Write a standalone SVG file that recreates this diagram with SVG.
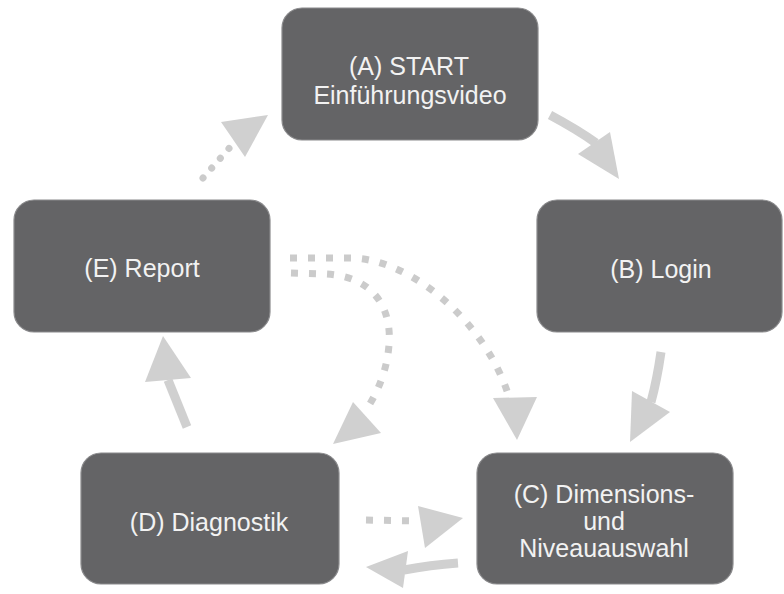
<svg xmlns="http://www.w3.org/2000/svg" width="784" height="594" viewBox="0 0 784 594">
<style>
.box{fill:#646466;stroke:#8a8a8c;stroke-width:1.2}
.lbl{font-family:"Liberation Sans",Arial,sans-serif;font-size:25px;fill:#f2f2f2;text-anchor:middle}
.shaft{fill:none;stroke:#d0d0d0;stroke-width:9;stroke-linecap:butt}
.dots{fill:none;stroke:#cbcbcb;stroke-width:7;stroke-dasharray:7 11;stroke-linecap:butt}
.rdots{fill:none;stroke:#cbcbcb;stroke-width:7;stroke-dasharray:0.1 13;stroke-linecap:round}
.head{fill:#d0d0d0}
</style>
<rect width="784" height="594" fill="#ffffff"/>
<g id="connectors">
  <!-- A -> B -->
  <path class="shaft" d="M550,115 Q578,130 596,143"/>
  <polygon class="head" points="610,132 578,154 619,179"/>
  <!-- B -> C -->
  <path class="shaft" d="M661,352 Q657,380 651,402"/>
  <polygon class="head" points="632,391 670,412 630,442"/>
  <!-- C -> D -->
  <path class="shaft" d="M458,563 Q430,565 404,570"/>
  <polygon class="head" points="408,551 403,588 366,567"/>
  <!-- D -> E -->
  <path class="shaft" d="M187,427 Q178,405 168,380"/>
  <polygon class="head" points="145,382 191,378 163,336"/>
  <!-- D -> C dotted -->
  <path class="dots" d="M366,520 L420,521"/>
  <polygon class="head" points="418,506 463,518 425,548"/>
  <!-- E -> A dotted -->
  <path class="rdots" d="M203,178 L232,145"/>
  <polygon class="head" points="221,122 245,157 268,115"/>
  <!-- E -> C dotted curve -->
  <path class="dots" d="M290,258 L350,258 C410,258 486,322 509,397"/>
  <polygon class="head" points="493,398 537,397 517,440"/>
  <!-- E -> D dotted curve -->
  <path class="dots" d="M291,273 L325,274 C375,276 392,310 389,345 C387,370 378,392 366,410"/>
  <polygon class="head" points="353,402 381,433 333,444"/>
</g>
<g id="nodeA">
  <rect class="box" x="282" y="8" width="256" height="132" rx="20"/>
  <text class="lbl" x="409" y="75">(A) START</text>
  <text class="lbl" x="410" y="104">Einführungsvideo</text>
</g>
<g id="nodeB">
  <rect class="box" x="537" y="200" width="245" height="132" rx="20"/>
  <text class="lbl" x="661" y="278">(B) Login</text>
</g>
<g id="nodeE">
  <rect class="box" x="14" y="200" width="256" height="132" rx="20"/>
  <text class="lbl" x="142" y="277">(E) Report</text>
</g>
<g id="nodeD">
  <rect class="box" x="81" y="453" width="258" height="131" rx="20"/>
  <text class="lbl" x="209" y="531">(D) Diagnostik</text>
</g>
<g id="nodeC">
  <rect class="box" x="477" y="453" width="256" height="131" rx="20"/>
  <text class="lbl" x="604" y="503">(C) Dimensions-</text>
  <text class="lbl" x="604" y="530">und</text>
  <text class="lbl" x="604" y="557">Niveauauswahl</text>
</g>
</svg>
